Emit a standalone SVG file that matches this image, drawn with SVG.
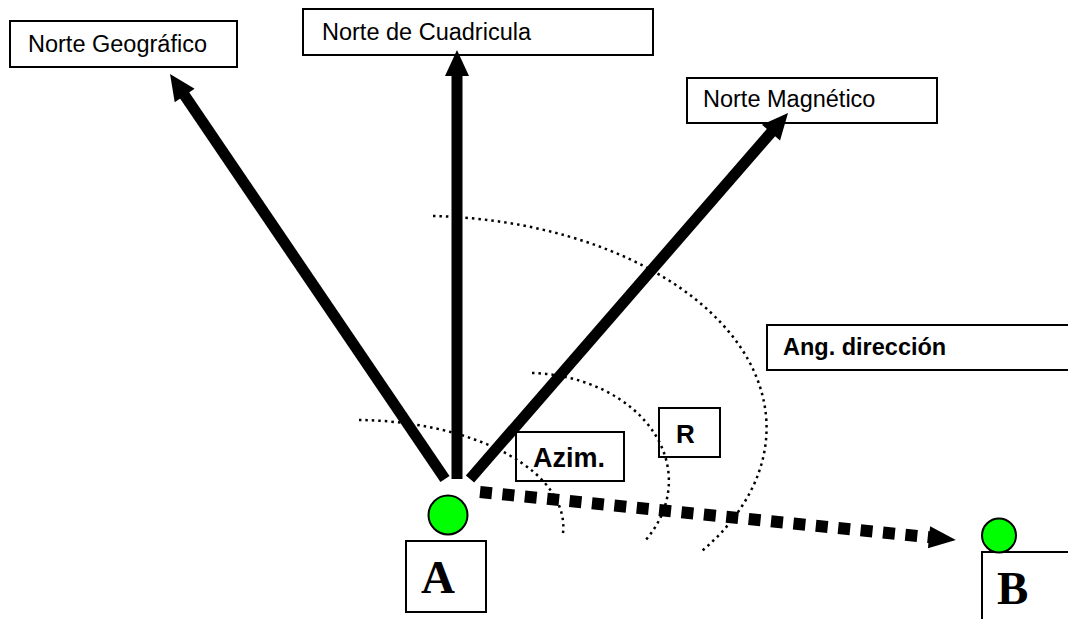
<svg xmlns="http://www.w3.org/2000/svg" width="1068" height="619" viewBox="0 0 1068 619">
  <style>
    .box { fill: #ffffff; stroke: #000000; stroke-width: 2; }
    .lbl { font-family: "Liberation Sans", Arial, sans-serif; fill: #000000; }
    .bold { font-weight: bold; }
    .pt { font-family: "Liberation Serif", "Times New Roman", serif; font-weight: bold; fill: #000000; }
    .dot { fill: #00ff00; stroke: #000000; stroke-width: 2; }
    .north { stroke: #000000; stroke-width: 11; fill: none; marker-end: url(#head); }
    .course { stroke: #000000; stroke-width: 12; fill: none; stroke-dasharray: 12 10.5; marker-end: url(#head2); }
    .arc { stroke: #000000; stroke-width: 2.5; fill: none; stroke-dasharray: 2.5 4; }
  </style>
  <defs>
    <marker id="head" markerUnits="userSpaceOnUse" markerWidth="27" markerHeight="24" refX="4" refY="12" orient="auto" overflow="visible">
      <path d="M0,0 L26,12 L0,24 z" fill="#000000"/>
    </marker>
    <marker id="head2" markerUnits="userSpaceOnUse" markerWidth="28" markerHeight="22" refX="2" refY="11" orient="auto" overflow="visible">
      <path d="M0,0 L27,11 L0,22 z" fill="#000000"/>
    </marker>
  </defs>

  <rect width="1068" height="619" fill="#ffffff"/>

  <!-- labels -->
  <g id="node-norte-geografico">
    <rect class="box" x="10" y="21" width="227" height="46"/>
    <text class="lbl" x="28" y="52" font-size="23.5">Norte Geográfico</text>
  </g>
  <g id="node-norte-cuadricula">
    <rect class="box" x="303" y="9" width="350" height="46"/>
    <text class="lbl" x="322" y="40" font-size="23.5">Norte de Cuadricula</text>
  </g>
  <g id="node-norte-magnetico">
    <rect class="box" x="687" y="78" width="250" height="45"/>
    <text class="lbl" x="703" y="107" font-size="23.5">Norte Magnético</text>
  </g>
  <g id="node-ang-direccion">
    <rect class="box" x="767" y="325" width="400" height="45"/>
    <text class="lbl bold" x="783" y="355" font-size="23.5">Ang. dirección</text>
  </g>
  <g id="node-azim">
    <rect class="box" x="516" y="432" width="108" height="49"/>
    <text class="lbl bold" x="533" y="467" font-size="27">Azim.</text>
  </g>
  <g id="node-r">
    <rect class="box" x="659" y="408" width="61" height="49"/>
    <text class="lbl bold" x="676" y="443" font-size="26">R</text>
  </g>

  <!-- angle arcs -->
  <g id="angle-arcs">
    <path class="arc" d="M433,216 A347,212 0 0 1 702,551"/>
    <path class="arc" d="M532,373 A142,108 0 0 1 644,542"/>
    <path class="arc" d="M359,420 A209,107 0 0 1 563,533"/>
  </g>

  <!-- connectors -->
  <g id="connectors">
    <line class="north" x1="445" y1="479" x2="182.4" y2="92.2"/>
    <line class="north" x1="457" y1="479" x2="457" y2="72"/>
    <line class="north" x1="470" y1="479" x2="773.6" y2="129.6"/>
    <line class="course" x1="480" y1="492" x2="931" y2="537.4"/>
  </g>

  <!-- points -->
  <g id="node-a">
    <circle class="dot" cx="448" cy="515" r="19.5"/>
    <rect class="box" x="406" y="541" width="80" height="71"/>
    <text class="pt" x="421" y="593" font-size="47">A</text>
  </g>
  <g id="node-b">
    <rect class="box" x="982" y="552" width="120" height="90"/>
    <circle class="dot" cx="999" cy="535.5" r="17"/>
    <text class="pt" x="997" y="604" font-size="47">B</text>
  </g>
</svg>
